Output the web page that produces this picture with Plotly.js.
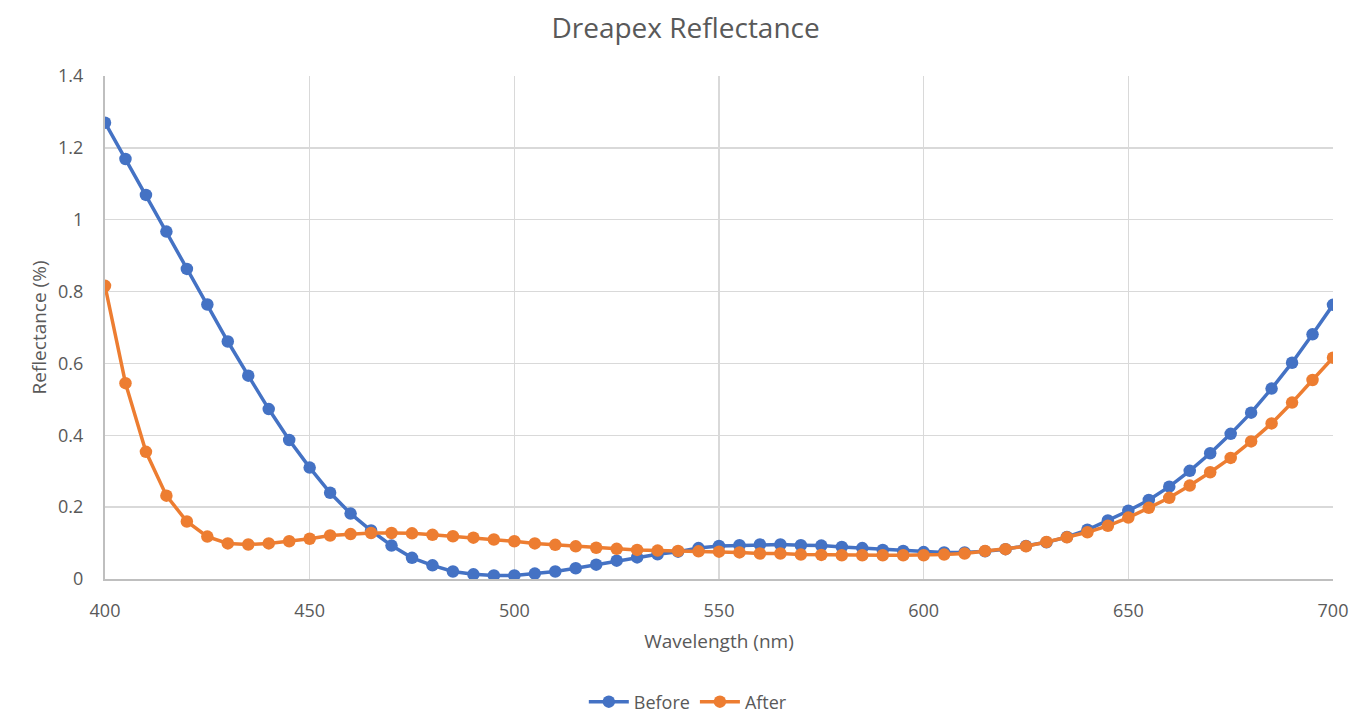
<!DOCTYPE html>
<html>
<head>
<meta charset="utf-8">
<script src="https://cdn.plot.ly/plotly-3.0.1.min.js"></script>
<style>
  html, body { margin: 0; padding: 0; background: #fff; }
  #chart { width: 1363px; height: 722px; }
</style>
</head>
<body>
<div id="chart"></div>
<script>
// Wavelength samples (nm), every 5 nm from 400 to 700
const wavelength = [];
for (let w = 400; w <= 700; w += 5) wavelength.push(w);

// Reflectance (%) before coating
const before = [
  1.270, 1.169, 1.069, 0.967, 0.863, 0.764, 0.661, 0.566, 0.473, 0.387,
  0.310, 0.240, 0.182, 0.135, 0.093, 0.059, 0.038, 0.021, 0.013, 0.010,
  0.010, 0.015, 0.021, 0.030, 0.040, 0.051, 0.060, 0.069, 0.076, 0.086,
  0.092, 0.094, 0.096, 0.096, 0.094, 0.093, 0.089, 0.086, 0.081, 0.078,
  0.075, 0.074, 0.074, 0.077, 0.083, 0.092, 0.102, 0.117, 0.137, 0.163,
  0.190, 0.220, 0.257, 0.301, 0.350, 0.404, 0.463, 0.530, 0.602, 0.681,
  0.763
];

// Reflectance (%) after coating
const after = [
  0.816, 0.545, 0.354, 0.232, 0.160, 0.118, 0.099, 0.096, 0.099, 0.105,
  0.112, 0.121, 0.125, 0.128, 0.128, 0.127, 0.123, 0.119, 0.115, 0.110,
  0.105, 0.099, 0.095, 0.091, 0.087, 0.084, 0.081, 0.079, 0.078, 0.077,
  0.076, 0.074, 0.071, 0.071, 0.068, 0.067, 0.066, 0.066, 0.066, 0.066,
  0.066, 0.068, 0.071, 0.078, 0.083, 0.091, 0.103, 0.116, 0.130, 0.148,
  0.171, 0.198, 0.226, 0.260, 0.297, 0.337, 0.383, 0.433, 0.491, 0.554,
  0.616
];

const xTicks = [400, 450, 500, 550, 600, 650, 700];
const yTicks = [0, 0.2, 0.4, 0.6, 0.8, 1, 1.2, 1.4];
const yTickText = ['0', '0.2', '0.4', '0.6', '0.8', '1', '1.2', '1.4'];

const textColor = '#595959';
const gridColor = '#d9d9d9';
const axisColor = '#bfbfbf';
const font = 'Open Sans, "Noto Sans", sans-serif';

const traces = [
  {
    x: wavelength, y: before, name: 'Before', type: 'scatter', mode: 'lines+markers',
    line: { color: '#4472c4', width: 3.5 },
    marker: { color: '#4472c4', size: 12.5 }
  },
  {
    x: wavelength, y: after, name: 'After', type: 'scatter', mode: 'lines+markers',
    line: { color: '#ed7d31', width: 3.5 },
    marker: { color: '#ed7d31', size: 12.5 }
  }
];

const layout = {
  width: 1363, height: 722,
  paper_bgcolor: '#ffffff', plot_bgcolor: '#ffffff',
  margin: { l: 105, r: 30, t: 76, b: 143, autoexpand: false },
  font: { family: font, color: textColor, size: 18 },
  title: {
    text: 'Dreapex Reflectance',
    font: { family: font, size: 28, color: textColor },
    x: 0.503, xanchor: 'center', xref: 'container',
    y: 1 - 28 / 722, yref: 'container', yanchor: 'middle'
  },
  xaxis: {
    range: [400, 700], tickvals: xTicks, ticktext: xTicks.map(String),
    showgrid: true, gridcolor: gridColor, gridwidth: 1.5,
    showline: true, linecolor: axisColor, linewidth: 2,
    zeroline: false, ticks: '', ticklabelstandoff: 14,
    tickfont: { size: 18, color: textColor },
    title: { text: 'Wavelength (nm)', font: { size: 19, color: textColor }, standoff: 14 }
  },
  yaxis: {
    range: [0, 1.4], tickvals: yTicks, ticktext: yTickText,
    showgrid: true, gridcolor: gridColor, gridwidth: 1.5,
    showline: true, linecolor: axisColor, linewidth: 2,
    zeroline: false, ticks: '', ticklabelstandoff: 16,
    tickfont: { size: 18, color: textColor },
    title: { text: 'Reflectance (%)', font: { size: 19, color: textColor }, standoff: 6 }
  },
  legend: {
    orientation: 'h', x: 0.505, xanchor: 'center', xref: 'container',
    y: 20 / 722, yref: 'container', yanchor: 'middle',
    font: { size: 18, color: textColor }, itemwidth: 40
  },
  showlegend: true
};

Plotly.newPlot('chart', traces, layout, { staticPlot: true, displayModeBar: false });
</script>
</body>
</html>
